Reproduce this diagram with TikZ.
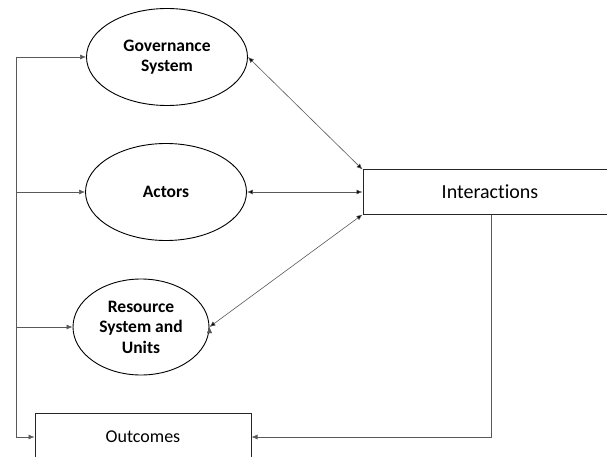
\documentclass[tikz,border=0pt]{standalone}
\usepackage{fontspec}
\setmainfont{Carlito}[RawFeature={-liga,-dlig}]
\usepackage{tikz}
\usetikzlibrary{arrows.meta,shapes.geometric}

\begin{document}
\begin{tikzpicture}[x=1pt,y=-1pt,>={Latex[length=6pt,width=5pt]},
  link/.style={draw=black!65,line width=0.6pt},
  part node/.style={ellipse,draw,line width=0.9pt,font=\fontsize{17.5}{20.5}\selectfont\bfseries,
    align=center,inner sep=0pt},
  box node/.style={rectangle,draw=black!85,line width=1pt,inner sep=0pt}]

  \clip (0,0) rectangle (607,457);
  \useasboundingbox (0,0) rectangle (607,457);

  \node[part node,minimum width=161pt,minimum height=97pt] (gov) at (167,57)
    {Governance\\System};
  \node[part node,minimum width=161pt,minimum height=97pt] (act) at (166,192)
    {Actors};
  \node[part node,minimum width=136pt,minimum height=96pt] (res) at (141,327)
    {Resource\\System and\\Units};
  \node[box node,minimum width=254pt,minimum height=44pt,font=\fontsize{20}{24}\selectfont]
    (inter) at (490,192) {Interactions};
  \node[box node,minimum width=216pt,minimum height=48pt,font=\fontsize{18}{21}\selectfont]
    (out) at (143,437) {Outcomes};

  \coordinate (top) at (16,57);
  \coordinate (bot) at (16,437);
  \coordinate (turn) at (491,437);

  \path[link,<->]
    (gov.east) edge (inter.north west)
    (act.east) edge (inter.west)
    (res.east) edge (inter.south west);

  \draw[link] (top) -- (bot);
  \draw[link,->] (top) -- (gov.west);
  \draw[link,->] (act.west -| top) -- (act.west);
  \draw[link,->] (res.west -| top) -- (res.west);
  \draw[link,->] (bot) -- (out.west);
  \draw[link,->] (inter.south -| turn) -- (turn) -- (out.east);

\end{tikzpicture}
\end{document}
